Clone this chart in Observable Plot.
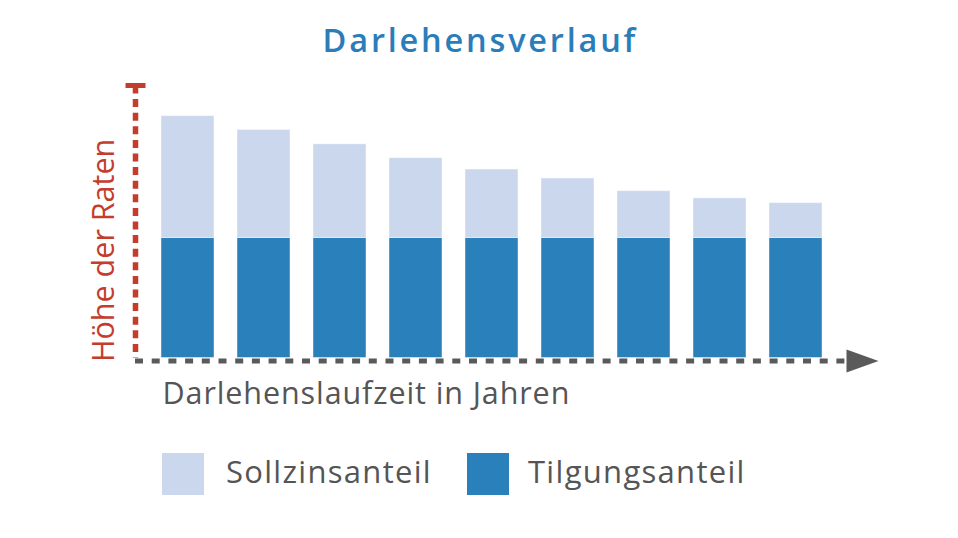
<!DOCTYPE html>
<html>
<head>
<meta charset="utf-8">
<script src="https://cdn.jsdelivr.net/npm/d3@7"></script>
<script src="https://cdn.jsdelivr.net/npm/@observablehq/plot@0.6"></script>
<style>
  html, body { margin: 0; padding: 0; background: #fff; }
  #wrap { position: relative; width: 958px; height: 538px; overflow: hidden; font-family: "Open Sans", sans-serif; }
  #title { position: absolute; left: 0; width: 958px; top: 24px; text-align: center; font-size: 32.5px; line-height: 32.5px; font-weight: 600; color: #2b7dba; letter-spacing: 2.8px; white-space: nowrap; text-indent: 2.8px; }
  .sw { position: absolute; width: 42px; height: 42px; }
  .lt { position: absolute; font-size: 31px; line-height: 31px; color: #555; letter-spacing: 1.3px; white-space: nowrap; }
  #chart { position: absolute; left: 0; top: 0; }
</style>
</head>
<body>
<div id="wrap">
  <div id="chart"></div>
  <div id="title">Darlehensverlauf</div>
  <div id="legend"></div>
</div>
<script>
const years = ["1", "2", "3", "4", "5", "6", "7", "8", "9"];
const tilgung = [100, 100, 100, 100, 100, 100, 100, 100, 100];
const zins = [101.5, 90, 78, 66.5, 57, 49.5, 39, 33, 29];
const seriesNames = ["Tilgungsanteil", "Sollzinsanteil"];
const seriesColors = ["#2a80bb", "#cad7ec"];
const legendOrder = ["Sollzinsanteil", "Tilgungsanteil"];
const xLabel = "Darlehenslaufzeit in Jahren";
const yLabel = "Höhe der Raten";

const rows = years.flatMap((year, i) => [
  {year, series: seriesNames[0], value: tilgung[i]},
  {year, series: seriesNames[1], value: zins[i]}
]);

const red = "#c43d2c";
const gray = "#5a5a5a";

const hline = {draw(ctx) { ctx.moveTo(-10, 0); ctx.lineTo(10, 0); }};
const arrow = {draw(ctx) { ctx.moveTo(0, -11.5); ctx.lineTo(32, 0); ctx.lineTo(0, 11.5); ctx.closePath(); }};

const plot = Plot.plot({
  width: 958,
  height: 538,
  marginLeft: 135,
  marginRight: 109.5,
  marginTop: 85,
  marginBottom: 180.5,
  style: {fontFamily: "'Open Sans', sans-serif", background: "transparent"},
  x: {domain: years, padding: 0.305, axis: null},
  y: {domain: [0, 227], axis: null},
  color: {domain: seriesNames, range: seriesColors},
  marks: [
    Plot.barY(rows, {x: "year", y: "value", fill: "series", stroke: "#ffffff", strokeOpacity: 0.45, strokeWidth: 1}),
    Plot.ruleY([0], {stroke: gray, strokeWidth: 5, strokeDasharray: "8,8.7", strokeLinecap: "butt", dy: 3}),
    Plot.frame({anchor: "left", stroke: red, strokeWidth: 5.5, strokeDasharray: "8,5.6", strokeLinecap: "butt"}),
    Plot.dot([0], {frameAnchor: "top-left", symbol: hline, fill: "none", stroke: red, strokeWidth: 5, strokeLinecap: "butt"}),
    Plot.dot([0], {frameAnchor: "bottom-right", symbol: arrow, fill: gray, stroke: "none", dx: -2.5, dy: 3}),
    Plot.text([xLabel], {frameAnchor: "bottom-left", textAnchor: "start", lineAnchor: "bottom", dx: 27, dy: 45.5, fontSize: 30.5, fill: "#555", text: d => d}),
    Plot.text([yLabel], {frameAnchor: "bottom-left", textAnchor: "start", lineAnchor: "bottom", rotate: -90, dx: -22, dy: 4, fontSize: 30.5, fill: red, text: d => d})
  ]
});
// dashed left frame side with flat ends
plot.querySelectorAll('[aria-label="frame"], [aria-label="frame"] line, [aria-label="frame"] rect').forEach(el => {
  el.setAttribute("stroke-dasharray", "8,5.6");
  el.setAttribute("stroke-linecap", "butt");
});
// letter spacing of the x-axis label
plot.querySelectorAll("text").forEach(el => {
  if (el.textContent === xLabel) el.setAttribute("letter-spacing", "0.9");
});
document.getElementById("chart").appendChild(plot);

const legend = document.getElementById("legend");
const legendX = [[162, 226], [467, 528]];
legendOrder.forEach((name, i) => {
  const sw = document.createElement("div");
  sw.className = "sw";
  sw.style.left = legendX[i][0] + "px";
  sw.style.top = "453px";
  sw.style.background = seriesColors[seriesNames.indexOf(name)];
  legend.appendChild(sw);
  const t = document.createElement("div");
  t.className = "lt";
  t.style.left = legendX[i][1] + "px";
  t.style.top = "455.5px";
  t.textContent = name;
  legend.appendChild(t);
});
</script>
</body>
</html>
